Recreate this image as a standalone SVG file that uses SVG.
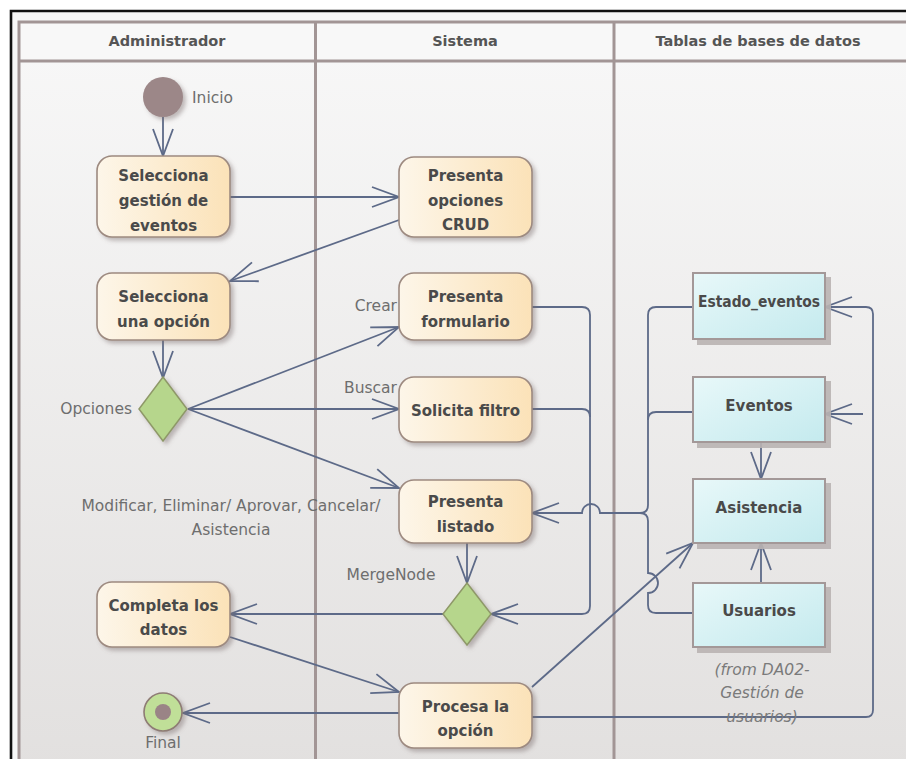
<svg xmlns="http://www.w3.org/2000/svg" width="906" height="759" viewBox="0 0 906 759">
  <defs>
    <linearGradient id="laneBg" x1="0" y1="0" x2="0" y2="1">
      <stop offset="0" stop-color="#f8f8f8"/>
      <stop offset="1" stop-color="#e2e0df"/>
    </linearGradient>
    <linearGradient id="actFill" x1="0" y1="0" x2="1" y2="0">
      <stop offset="0" stop-color="#fdf6e9"/>
      <stop offset="1" stop-color="#fbe2b8"/>
    </linearGradient>
    <linearGradient id="tblFill" x1="0" y1="0" x2="1" y2="1">
      <stop offset="0" stop-color="#e8f8f9"/>
      <stop offset="1" stop-color="#c4eaee"/>
    </linearGradient>
    <filter id="softShadow" x="-20%" y="-20%" width="150%" height="150%">
      <feDropShadow dx="3" dy="3" stdDeviation="2" flood-color="#7a7070" flood-opacity="0.45"/>
    </filter>
    <filter id="hardShadow" x="-10%" y="-10%" width="130%" height="130%">
      <feDropShadow dx="5" dy="5" stdDeviation="0.6" flood-color="#b9b3b2" flood-opacity="0.9"/>
    </filter>
    <marker id="arr" markerUnits="userSpaceOnUse" viewBox="-30 -15 32 30" markerWidth="32" markerHeight="30" refX="0" refY="0" orient="auto">
      <path d="M-27,-10 L0,0 L-27,10" fill="none" stroke="#5d6a88" stroke-width="1.8"/>
    </marker>
    <style>
      .lane { fill: url(#laneBg); }
      .lline { stroke: #a29595; stroke-width: 3; fill: none; }
      .head { font-family: "DejaVu Sans", "Liberation Sans", sans-serif; font-weight: bold; font-size: 14.5px; fill: #555555; text-anchor: middle; }
      .act { fill: url(#actFill); stroke: #9d8a80; stroke-width: 1.6; filter: url(#softShadow); }
      .tbl { fill: url(#tblFill); stroke: #a39898; stroke-width: 2; filter: url(#hardShadow); }
      .dia { fill: #b6d68c; stroke: #8e9868; stroke-width: 1.5; filter: url(#softShadow); }
      .lbl { font-family: "DejaVu Sans", "Liberation Sans", sans-serif; font-weight: bold; font-size: 15px; fill: #4a4a4a; text-anchor: middle; }
      .note { font-family: "DejaVu Sans", "Liberation Sans", sans-serif; font-size: 15.5px; fill: #6e6e6e; }
      .from { font-family: "DejaVu Sans", "Liberation Sans", sans-serif; font-style: italic; font-size: 15.5px; fill: #7a7a7a; text-anchor: middle; }
      .edge { fill: none; stroke: #5d6a88; stroke-width: 1.8; }
      .edge.arrow { marker-end: url(#arr); }
    </style>
  </defs>

  <!-- page and frame -->
  <rect x="0" y="0" width="906" height="759" fill="#ffffff"/>
  <rect x="11" y="11" width="900" height="760" fill="#f7f7f7"/>
  <path d="M11,771 V11 H911" fill="none" stroke="#111111" stroke-width="2.6"/>

  <!-- swimlanes -->
  <g id="lanes">
    <rect class="lane" x="19" y="22" width="900" height="750"/>
    <rect x="19" y="22" width="900" height="39" fill="#f8f8f8"/>
    <path class="lline" d="M19,775 V22 H915"/>
    <path class="lline" d="M19,61 H915"/>
    <path class="lline" d="M315.5,22 V775"/>
    <path class="lline" d="M614,22 V775"/>
    <text class="head" x="167" y="46">Administrador</text>
    <text class="head" x="465" y="46">Sistema</text>
    <text class="head" x="758" y="46">Tablas de bases de datos</text>
  </g>

  <!-- connectors -->
  <g id="connectors">
    <path class="edge arrow" d="M163,117 V156"/>
    <path class="edge arrow" d="M230,197 H399"/>
    <path class="edge arrow" d="M399,220 L230,281"/>
    <path class="edge arrow" d="M163,340 V378"/>
    <path class="edge arrow" d="M188,409 L399,327"/>
    <path class="edge arrow" d="M188,409 H399"/>
    <path class="edge arrow" d="M188,409 L399,488"/>
    <path class="edge arrow" d="M467,543 V583"/>
    <path class="edge arrow" d="M443,614 H230"/>
    <path class="edge arrow" d="M230,637 L399,692"/>
    <path class="edge arrow" d="M399,713 H183"/>
    <path class="edge arrow" d="M532,687 L693,543"/>
    <path class="edge arrow" d="M532,717 H866 Q873,717 873,710 V314 Q873,307 866,307 H825"/>
    <path class="edge arrow" d="M532,307 H582 Q590,307 590,315 V606 Q590,614 582,614 H491"/>
    <path class="edge" d="M532,409 H582 Q590,409 590,417"/>
    <path class="edge arrow" d="M693,307 H656 Q648,307 648,315 V505 Q648,513 640,513 H600 A9,9 0 0 0 582,513 H532"/>
    <path class="edge" d="M693,412 H656 Q648,412 648,420"/>
    <path class="edge" d="M693,613 H656 Q648,613 648,605 V593 A10,10 0 0 0 648,573 V521 Q648,513 640,513"/>
    <path class="edge arrow" d="M761,442 V479"/>
    <path class="edge arrow" d="M761,583 V543"/>
    <path class="edge arrow" d="M863,414 H825"/>
  </g>

  <!-- Administrador lane -->
  <g id="inicio">
    <circle cx="163" cy="97" r="20" fill="#9c8788" filter="url(#softShadow)"/>
    <text class="note" x="192" y="103" fill="#777777">Inicio</text>
  </g>
  <g id="selecciona-gestion">
    <rect class="act" x="97" y="156" width="133" height="81" rx="15"/>
    <text class="lbl" x="163.5" y="181">Selecciona</text>
    <text class="lbl" x="163.5" y="206">gestión de</text>
    <text class="lbl" x="163.5" y="231">eventos</text>
  </g>
  <g id="selecciona-opcion">
    <rect class="act" x="97" y="273" width="133" height="67" rx="15"/>
    <text class="lbl" x="163.5" y="302">Selecciona</text>
    <text class="lbl" x="163.5" y="327">una opción</text>
  </g>
  <g id="opciones">
    <polygon class="dia" points="163,377 187,409 163,441 139,409"/>
    <text class="note" x="132" y="414" text-anchor="end">Opciones</text>
  </g>
  <g id="guard-labels">
    <text class="note" x="231" y="511" text-anchor="middle">Modificar, Eliminar/ Aprovar, Cancelar/</text>
    <text class="note" x="231" y="535" text-anchor="middle">Asistencia</text>
  </g>
  <g id="completa-datos">
    <rect class="act" x="97" y="582" width="133" height="65" rx="15"/>
    <text class="lbl" x="163.5" y="611">Completa los</text>
    <text class="lbl" x="163.5" y="635">datos</text>
  </g>
  <g id="final">
    <circle cx="163" cy="712" r="19" fill="#c0df98" stroke="#8e7c74" stroke-width="1.6" filter="url(#softShadow)"/>
    <circle cx="163" cy="712" r="8" fill="#9a8486"/>
    <text class="note" x="163" y="748" text-anchor="middle" fill="#777777">Final</text>
  </g>

  <!-- Sistema lane -->
  <g id="presenta-crud">
    <rect class="act" x="399" y="157" width="133" height="80" rx="15"/>
    <text class="lbl" x="465.5" y="181">Presenta</text>
    <text class="lbl" x="465.5" y="206">opciones</text>
    <text class="lbl" x="465.5" y="230">CRUD</text>
  </g>
  <g id="presenta-formulario">
    <rect class="act" x="399" y="273" width="133" height="67" rx="15"/>
    <text class="lbl" x="465.5" y="302">Presenta</text>
    <text class="lbl" x="465.5" y="327">formulario</text>
    <text class="note" x="397" y="311" text-anchor="end">Crear</text>
  </g>
  <g id="solicita-filtro">
    <rect class="act" x="399" y="377" width="133" height="65" rx="15"/>
    <text class="lbl" x="465.5" y="416">Solicita filtro</text>
    <text class="note" x="397" y="393" text-anchor="end">Buscar</text>
  </g>
  <g id="presenta-listado">
    <rect class="act" x="399" y="480" width="133" height="63" rx="15"/>
    <text class="lbl" x="465.5" y="507">Presenta</text>
    <text class="lbl" x="465.5" y="532">listado</text>
  </g>
  <g id="merge-node">
    <polygon class="dia" points="467,583 491,614 467,645 443,614"/>
    <text class="note" x="391" y="580" text-anchor="middle">MergeNode</text>
  </g>
  <g id="procesa-opcion">
    <rect class="act" x="399" y="683" width="133" height="65" rx="15"/>
    <text class="lbl" x="465.5" y="712">Procesa la</text>
    <text class="lbl" x="465.5" y="736">opción</text>
  </g>

  <!-- Tablas de bases de datos lane -->
  <g id="estado-eventos">
    <rect class="tbl" x="693" y="273" width="132" height="66"/>
    <text class="lbl" x="759" y="307" textLength="122" lengthAdjust="spacingAndGlyphs">Estado_eventos</text>
  </g>
  <g id="eventos">
    <rect class="tbl" x="693" y="377" width="132" height="65"/>
    <text class="lbl" x="759" y="411">Eventos</text>
  </g>
  <g id="asistencia">
    <rect class="tbl" x="693" y="479" width="132" height="64"/>
    <text class="lbl" x="759" y="513">Asistencia</text>
  </g>
  <g id="usuarios">
    <rect class="tbl" x="693" y="583" width="132" height="64"/>
    <text class="lbl" x="759" y="616">Usuarios</text>
    <text class="from" x="762" y="675">(from DA02-</text>
    <text class="from" x="762" y="698">Gestión de</text>
    <text class="from" x="762" y="722">usuarios)</text>
  </g>
</svg>
